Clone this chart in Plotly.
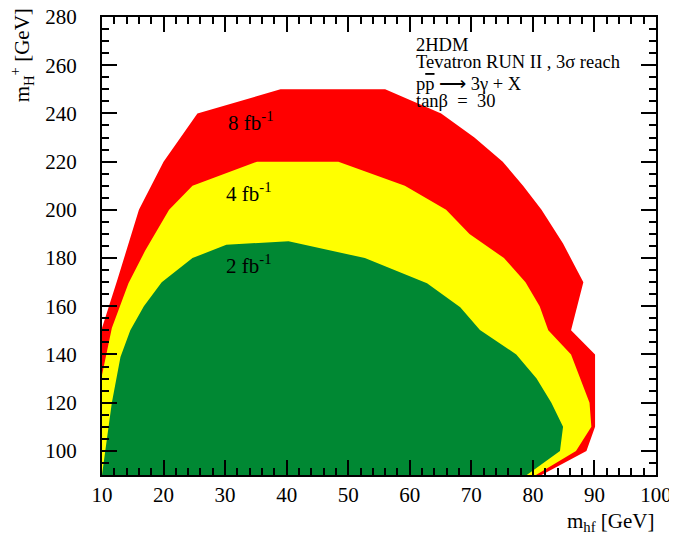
import plotly.graph_objects as go

# ---- data ----
red_x = [10, 10, 12.5, 16, 20, 25.5, 39, 56, 65.1, 70.5, 75.1, 78.4, 81.4, 84.9, 88.2, 86.2, 90.1, 90.1, 88.7, 81.4]
red_y = [90, 151, 171, 200, 220, 240, 250, 250, 240, 230, 220, 210, 200, 186, 170, 150, 140, 110, 100, 90]

yellow_x = [10, 10, 11.6, 14.3, 17, 20.9, 24.7, 35.2, 48.4, 59.2, 65.9, 69.7, 75.3, 78.8, 81.1, 82.5, 86.2, 89.2, 89.5, 87.0, 80.5]
yellow_y = [90, 131.5, 151, 169.5, 183, 200, 210, 220, 220, 210, 200, 190, 180, 170, 160, 150, 140, 120, 110, 100, 90]

green_x = [10, 11.1, 11.6, 13, 14.6, 16.8, 19.7, 24.7, 30.2, 40.3, 52.7, 62.8, 68.2, 71.4, 77.3, 80.6, 83.0, 84.9, 84.4, 79.0]
green_y = [90, 110, 120, 139, 150, 160, 170, 180, 185.5, 187, 180, 169.5, 159.6, 150.2, 140, 130, 120, 110, 100, 90]

x_ticks = [10, 20, 30, 40, 50, 60, 70, 80, 90, 100]
y_ticks = [100, 120, 140, 160, 180, 200, 220, 240, 260, 280]

lumi_labels = ["8 fb<sup>-1</sup>", "4 fb<sup>-1</sup>", "2 fb<sup>-1</sup>"]
lumi_x = [30.2, 29.8, 29.8]
lumi_y = [236.5, 207, 177.5]

info_lines = ["2HDM",
              "Tevatron RUN II\u00a0, 3σ\u00a0reach",
              "p<span style='text-decoration:overline'>p</span> ⟶ 3γ + X",
              "tanβ\u00a0 = \u00a030"]

FONT = "Liberation Serif"
RED = "#ff0000"
YELLOW = "#ffff00"
GREEN = "#008833"

# page body has an 8px margin: work in page pixels, convert to figure pixels
OFF = 8
W, H = 669, 542
PL, PR, PT, PB = 101.7, 656, 17, 475   # plot box in page pixels
L, T = PL - OFF, PT - OFF
R, B = W - (PR - OFF), H - (PB - OFF)
PW = PR - PL
PH = PB - PT

fig = go.Figure()
for xs, ys, col in [(red_x, red_y, RED), (yellow_x, yellow_y, YELLOW), (green_x, green_y, GREEN)]:
    fig.add_trace(go.Scatter(x=xs, y=ys, fill="toself", fillcolor=col, mode="lines",
                             line=dict(width=0, color=col), hoverinfo="skip", showlegend=False))

for t, lx, ly in zip(lumi_labels, lumi_x, lumi_y):
    fig.add_annotation(x=lx, y=ly, text=t, showarrow=False, xanchor="left", yanchor="middle",
                       font=dict(family=FONT, size=21, color="black"))

info_y = [45, 62, 84, 101]
for t, py in zip(info_lines, info_y):
    fig.add_annotation(xref="paper", yref="paper", x=(414 - PL) / PW, y=1 - (py - PT) / PH,
                       text=t, showarrow=False, xanchor="left", yanchor="middle",
                       font=dict(family=FONT, size=18.5, color="black"))

# axis titles
fig.add_annotation(xref="paper", yref="paper", x=1.0, y=-(522 - PB) / PH,
                   text="m<sub>hf</sub> [GeV]", showarrow=False, xanchor="right", yanchor="middle",
                   font=dict(family=FONT, size=21, color="black"))
fig.add_annotation(xref="paper", yref="paper", x=(22 - PL) / PW, y=1 - (55 - PT) / PH,
                   text="m<sub>H</sub><sup>+</sup> [GeV]", showarrow=False, textangle=-90,
                   xanchor="center", yanchor="middle",
                   font=dict(family=FONT, size=21, color="black"))

axis_common = dict(showline=True, linecolor="black", linewidth=2, mirror="ticks",
                   ticks="inside", ticklen=15, tickwidth=1.5, tickcolor="black",
                   showgrid=False, zeroline=False, automargin=False,
                   ticklabeloverflow="allow",
                   tickfont=dict(family=FONT, size=21, color="black"))

fig.update_xaxes(range=[10, 100], tickvals=x_ticks, ticktext=[str(v) for v in x_ticks],
                 minor=dict(ticks="inside", ticklen=7, tickwidth=1.5, tickcolor="black", dtick=2, tick0=10, showgrid=False),
                 ticklabelstandoff=0, **axis_common)
fig.update_yaxes(range=[90, 280], tickvals=y_ticks, ticktext=[str(v) for v in y_ticks],
                 minor=dict(ticks="inside", ticklen=7, tickwidth=1.5, tickcolor="black", dtick=5, tick0=90, showgrid=False),
                 ticklabelstandoff=19, **axis_common)

fig.update_layout(width=W, height=H, margin=dict(l=L, r=R, t=T, b=B, autoexpand=False),
                  plot_bgcolor="white", paper_bgcolor="white",
                  font=dict(family=FONT, color="black"))

fig.write_html("out.html")
